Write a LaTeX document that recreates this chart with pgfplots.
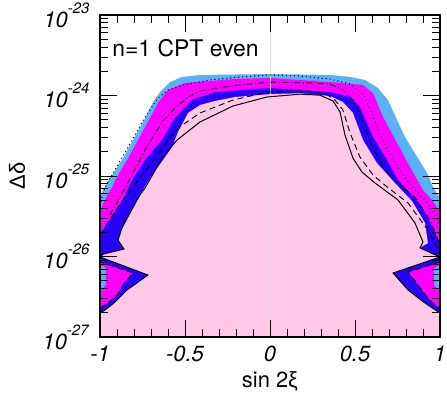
\documentclass[border=0pt]{standalone}
\usepackage{pgfplots}
\pgfplotsset{compat=1.18}
\usepackage{fontspec}
\setmainfont{TeX Gyre Heros}
\newfontfamily\grk{Liberation Sans}
\definecolor{lb}{RGB}{88,178,245}
\definecolor{mg}{RGB}{255,0,255}
\definecolor{bl}{RGB}{40,0,255}
\definecolor{pk}{RGB}{255,200,230}
\newcommand{\tl}[1]{\textit{10}\raisebox{14bp}{\fontsize{15}{15}\selectfont\textit{#1}}}
\begin{document}
\begin{tikzpicture}
\path[use as bounding box] (0,0) rectangle (447bp,403bp);
\begin{axis}[
  at={(100bp,66bp)}, anchor=south west, scale only axis, width=340bp, height=322bp,
  ymode=log, xmin=-1, xmax=1, ymin=1e-27, ymax=1e-23,
  axis on top,
  xtick={-1,-0.5,0,0.5,1},
  xticklabels={-1,-0.5,0,0.5,1},
  minor x tick num=4,
  ytick={1e-27,1e-26,1e-25,1e-24,1e-23},
  yticklabels={\tl{-27},\tl{-26},\tl{-25},\tl{-24},\tl{-23}},
  minor ytick={2e-27,3e-27,4e-27,5e-27,6e-27,7e-27,8e-27,9e-27,
               2e-26,3e-26,4e-26,5e-26,6e-26,7e-26,8e-26,9e-26,
               2e-25,3e-25,4e-25,5e-25,6e-25,7e-25,8e-25,9e-25,
               2e-24,3e-24,4e-24,5e-24,6e-24,7e-24,8e-24,9e-24},
  tick align=inside, tick pos=both,
  major tick length=17bp, minor tick length=8bp,
  tick style={black, line width=0.9pt},
  axis line style={line width=1.3pt},
  xticklabel style={font=\fontsize{22}{26}\selectfont\itshape, yshift=-5bp},
  yticklabel style={font=\fontsize{22}{26}\selectfont, xshift=-7bp},
  xlabel={sin 2{\grk ξ}}, ylabel={{\grk Δδ}},
  label style={font=\fontsize{22}{26}\selectfont},
  xlabel style={at={(axis description cs:0.5,-0.137)}, anchor=center},
  ylabel style={at={(axis description cs:-0.244,0.5)}, anchor=center},
]
% light blue region
\addplot[fill=lb, draw=none] coordinates {
(-1,1e-27) (-1,5.65e-26) (-0.971,7.30e-26) (-0.941,9.44e-26) (-0.871,1.58e-25) (-0.806,2.80e-25) (-0.741,4.97e-25) (-0.688,8.30e-25) (-0.647,1.10e-24) (-0.588,1.47e-24) (-0.518,1.70e-24) (-0.412,1.80e-24) (0,1.85e-24) (0.353,1.80e-24) (0.471,1.70e-24) (0.559,1.56e-24) (0.635,1.24e-24) (0.694,8.79e-25) (0.747,4.97e-25) (0.794,3.05e-25) (0.841,2.10e-25) (0.924,1.09e-25) (0.959,7.30e-26) (1,5.33e-26) (1,1e-27)};
% magenta region
\addplot[fill=mg, draw=none] coordinates {
(-1,1e-27) (-1,3.62e-27) (-0.965,4.43e-27) (-0.965,7.19e-27) (-1,7.84e-27) (-1,3.78e-26) (-0.965,5.33e-26) (-0.929,7.30e-26) (-0.9,9.72e-26) (-0.841,1.58e-25) (-0.776,2.80e-25) (-0.712,4.97e-25) (-0.659,8.07e-25) (-0.6,1.17e-24) (-0.5,1.43e-24) (-0.218,1.60e-24) (0,1.65e-24) (0.353,1.47e-24) (0.547,1.35e-24) (0.606,1.07e-24) (0.665,5.41e-25) (0.747,2.57e-25) (0.824,1.29e-25) (0.9,6.70e-26) (0.953,5.04e-26) (1,3.57e-26) (1,7.84e-27) (0.965,7.19e-27) (0.965,4.43e-27) (1,3.62e-27) (1,1e-27)};
% blue region
\addplot[fill=bl, draw=none] coordinates {
(-1,1e-27) (-1,2.29e-27) (-0.953,2.64e-27) (-0.9,3.33e-27) (-0.853,4.82e-27) (-0.806,6.24e-27) (-1,8.55e-27) (-1,1.85e-26) (-0.971,2.32e-26) (-0.924,3.28e-26) (-0.865,5.04e-26) (-0.818,8.41e-26) (-0.735,1.58e-25) (-0.635,2.80e-25) (-0.559,5.25e-25) (-0.459,8.79e-25) (-0.324,1.10e-24) (0,1.24e-24) (0.353,1.10e-24) (0.471,9.58e-25) (0.529,7.19e-25) (0.606,3.05e-25) (0.688,1.58e-25) (0.753,8.91e-26) (0.824,6.15e-26) (0.894,4.12e-26) (0.971,1.96e-26) (1,1.39e-26) (1,8.55e-27) (0.812,6.41e-27) (0.871,4.43e-27) (0.929,3.05e-27) (0.971,2.50e-27) (1,2.29e-27) (1,1e-27)};
% pink region
\addplot[fill=pk, draw=none] coordinates {
(-1,1e-27) (-1,1.99e-27) (-0.971,2.16e-27) (-0.912,2.72e-27) (-0.841,3.84e-27) (-0.776,4.82e-27) (-0.718,5.89e-27) (-1,9.86e-27) (-0.982,1.07e-26) (-0.859,1.24e-26) (-0.894,1.60e-26) (-0.871,2.26e-26) (-0.824,3.47e-26) (-0.765,5.81e-26) (-0.706,9.44e-26) (-0.629,1.58e-25) (-0.576,2.29e-25) (-0.541,3.52e-25) (-0.482,6.07e-25) (-0.412,7.62e-25) (-0.324,8.55e-25) (-0.206,9.58e-25) (0,1.04e-24) (0.176,1.07e-24) (0.353,9.86e-25) (0.429,8.30e-25) (0.488,6.07e-25) (0.547,2.80e-25) (0.629,1.45e-25) (0.724,8.67e-26) (0.835,4.89e-26) (0.912,2.61e-26) (0.929,1.47e-26) (0.882,1.28e-26) (1,9.86e-27) (0.724,6.24e-27) (0.812,3.84e-27) (0.912,2.64e-27) (1,1.99e-27) (1,1e-27)};
% zero line
\addplot[white!85!black, line width=1pt] coordinates {(0,1e-27) (0,1e-23)};
% solid line
\addplot[black, line width=1pt] coordinates {
(-1,1.99e-27) (-0.971,2.16e-27) (-0.912,2.72e-27) (-0.841,3.84e-27) (-0.776,4.82e-27) (-0.718,5.89e-27) (-1,9.86e-27) (-0.982,1.07e-26) (-0.859,1.24e-26) (-0.894,1.60e-26) (-0.871,2.26e-26) (-0.824,3.47e-26) (-0.765,5.81e-26) (-0.735,7.10e-26) (-0.635,1.67e-25) (-0.547,2.80e-25) (-0.412,4.69e-25) (-0.218,7.41e-25) (-0.018,9.58e-25) (0.176,1.04e-24) (0.294,1.01e-24) (0.371,8.55e-25) (0.412,6.24e-25) (0.441,3.23e-25) (0.488,1.67e-25) (0.541,1.12e-25) (0.618,8.18e-26) (0.753,5.04e-26) (0.853,2.61e-26) (0.9,1.51e-26) (0.882,1.28e-26) (1,9.86e-27) (0.724,6.24e-27) (0.812,3.84e-27) (0.912,2.64e-27) (1,1.99e-27)};
% dashed lines
\addplot[black, line width=0.9pt, dash pattern=on 6pt off 4pt] coordinates {
(-1,2.29e-27) (-0.953,2.64e-27) (-0.9,3.33e-27) (-0.853,4.82e-27) (-0.806,6.24e-27) (-1,8.55e-27)};
\addplot[black, line width=0.9pt, dash pattern=on 6pt off 4pt] coordinates {
(-1,1.85e-26) (-0.971,2.32e-26) (-0.924,3.28e-26) (-0.865,5.04e-26) (-0.812,7.10e-26) (-0.706,1.37e-25) (-0.618,2.43e-25) (-0.541,3.94e-25) (-0.412,6.07e-25) (-0.218,8.79e-25) (-0.018,1.10e-24) (0.176,1.17e-24) (0.324,1.07e-24) (0.382,8.79e-25) (0.429,6.61e-25) (0.471,3.42e-25) (0.529,1.72e-25) (0.606,1.03e-25) (0.682,7.52e-26) (0.812,4.62e-26) (0.929,2.13e-26) (0.982,1.31e-26) (1,1.01e-26)};
\addplot[black, line width=0.9pt, dash pattern=on 6pt off 4pt] coordinates {
(1,8.55e-27) (0.812,6.41e-27) (0.871,4.43e-27) (0.929,3.05e-27) (0.971,2.50e-27) (1,2.29e-27)};
% dash-dot line
\addplot[black, line width=0.9pt, dash pattern=on 6pt off 2.5pt on 1pt off 2.5pt] coordinates {
(-0.941,3.28e-26) (-0.853,7.10e-26) (-0.735,2.10e-25) (-0.635,4.69e-25) (-0.559,7.00e-25) (-0.482,9.58e-25) (-0.412,1.14e-24) (-0.235,1.31e-24) (0,1.47e-24) (0.235,1.43e-24) (0.353,1.39e-24) (0.429,1.17e-24) (0.5,8.30e-25) (0.547,4.69e-25) (0.606,2.23e-25) (0.676,1.19e-25) (0.765,7.73e-26) (0.853,5.48e-26) (0.941,2.84e-26) (0.988,1.60e-26) (1,1.21e-26)};
% dotted line
\addplot[black, line width=1.4pt, line cap=round, dash pattern=on 0pt off 4pt] coordinates {
(-1,4.37e-26) (-0.971,7.30e-26) (-0.912,1.19e-25) (-0.835,2.29e-25) (-0.735,5.41e-25) (-0.659,9.31e-25) (-0.6,1.17e-24) (-0.512,1.35e-24) (-0.353,1.56e-24) (-0.176,1.70e-24) (0,1.80e-24) (0.176,1.75e-24) (0.353,1.60e-24) (0.471,1.39e-24) (0.547,1.04e-24) (0.6,6.07e-25) (0.647,3.23e-25) (0.724,1.58e-25) (0.824,7.73e-26) (0.912,5.04e-26) (0.971,3.28e-26) (1,2.46e-26)};
\node[anchor=west, font=\fontsize{23}{27}\selectfont] at (rel axis cs:0.026,0.898) {n=1 CPT even};
\end{axis}
\end{tikzpicture}
\end{document}
